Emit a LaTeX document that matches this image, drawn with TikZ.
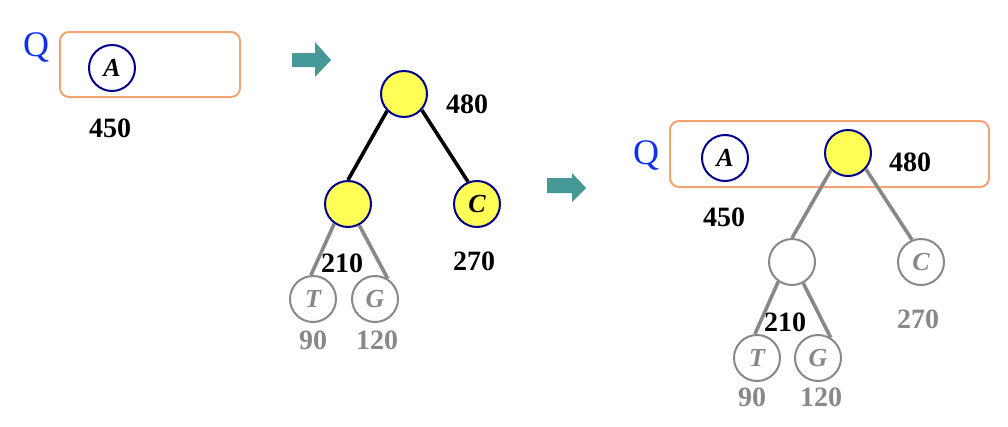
\documentclass[tikz,border=0pt]{standalone}
\usepackage{fontspec}
\setmainfont{Liberation Serif}
\definecolor{navyc}{HTML}{000090}
\definecolor{yel}{HTML}{FFFF55}
\definecolor{boxc}{HTML}{F4A270}
\definecolor{teal2}{HTML}{459A98}
\definecolor{grayc}{HTML}{888888}
\definecolor{qblue}{HTML}{1030F0}
\tikzset{
  hnode/.style={circle,draw=navyc,line width=2pt,minimum size=46pt,inner sep=0pt,font=\fontsize{26}{26}\selectfont\bfseries\itshape},
  ynode/.style={hnode,fill=yel},
  gnode/.style={circle,draw=grayc,line width=2pt,minimum size=46pt,inner sep=0pt,text=grayc,font=\fontsize{26}{26}\selectfont\bfseries\itshape},
  num/.style={font=\fontsize{28}{28}\selectfont\bfseries,inner sep=0pt},
  gnum/.style={num,text=grayc},
  qlab/.style={font=\fontsize{36}{36}\selectfont,text=qblue,inner sep=0pt},
  qbox/.style={draw=boxc,line width=2pt,rounded corners=9pt},
  bedge/.style={line width=3.6pt,black},
  gedge/.style={line width=3.6pt,grayc},
  bigarrow/.style={fill=teal2}
}
\begin{document}
\begin{tikzpicture}[x=1pt,y=-1pt]
\useasboundingbox (0,0) rectangle (1008,426);
% ---- left panel
\node[qlab] (q1) at (36,47) {Q};
\draw[qbox] (60,32) rectangle (240,97);
\node[hnode] (a1) at (112,68) {A};
\node[num] (n450a) at (110,128) {450};
% arrow 1
\fill[bigarrow] (292,53) -- (315,53) -- (315,42) -- (331,60) -- (315,77) -- (315,67) -- (292,67) -- cycle;
% ---- middle tree
\node[ynode] (r2) at (404,94) {};
\node[num] (n480b) at (467,104) {480};
\node[ynode] (l2) at (348,204) {};
\node[ynode] (c2) at (477,204) {C};
\node[gnode] (t2) at (313,299) {T};
\node[gnode] (g2) at (375,299) {G};
\draw[bedge] (r2.225) -- (l2.90);
\draw[bedge] (r2.318) -- (c2.112);
\draw[gedge] (l2.235) -- (t2.95);
\draw[gedge] (l2.298) -- (g2.58);
\node[num] (n210b) at (342,263) {210};
\node[num] (n270b) at (474,261) {270};
\node[gnum] (n90b) at (313,340) {90};
\node[gnum] (n120b) at (377,340) {120};
% arrow 2
\fill[bigarrow] (547,178) -- (572,178) -- (572,173) -- (586,188) -- (572,202) -- (572,193) -- (547,193) -- cycle;
% ---- right panel
\node[qlab] (q3) at (646,155) {Q};
\draw[qbox] (670,121) rectangle (989,187);
\node[hnode] (a3) at (725,158) {A};
\node[num] (n450c) at (724,217) {450};
\node[ynode] (r3) at (848,153) {};
\node[num] (n480c) at (910,162) {480};
\node[gnode] (l3) at (792,262) {};
\node[gnode] (c3) at (921,262) {C};
\node[gnode] (t3) at (757,358) {T};
\node[gnode] (g3) at (818,358) {G};
\draw[gedge] (r3.225) -- (l3.90);
\draw[gedge] (r3.318) -- (c3.112);
\draw[gedge] (l3.235) -- (t3.95);
\draw[gedge] (l3.298) -- (g3.58);
\node[num] (n210c) at (785,322) {210};
\node[gnum] (n270c) at (918,319) {270};
\node[gnum] (n90c) at (752,397) {90};
\node[gnum] (n120c) at (821,397) {120};
\end{tikzpicture}
\end{document}
